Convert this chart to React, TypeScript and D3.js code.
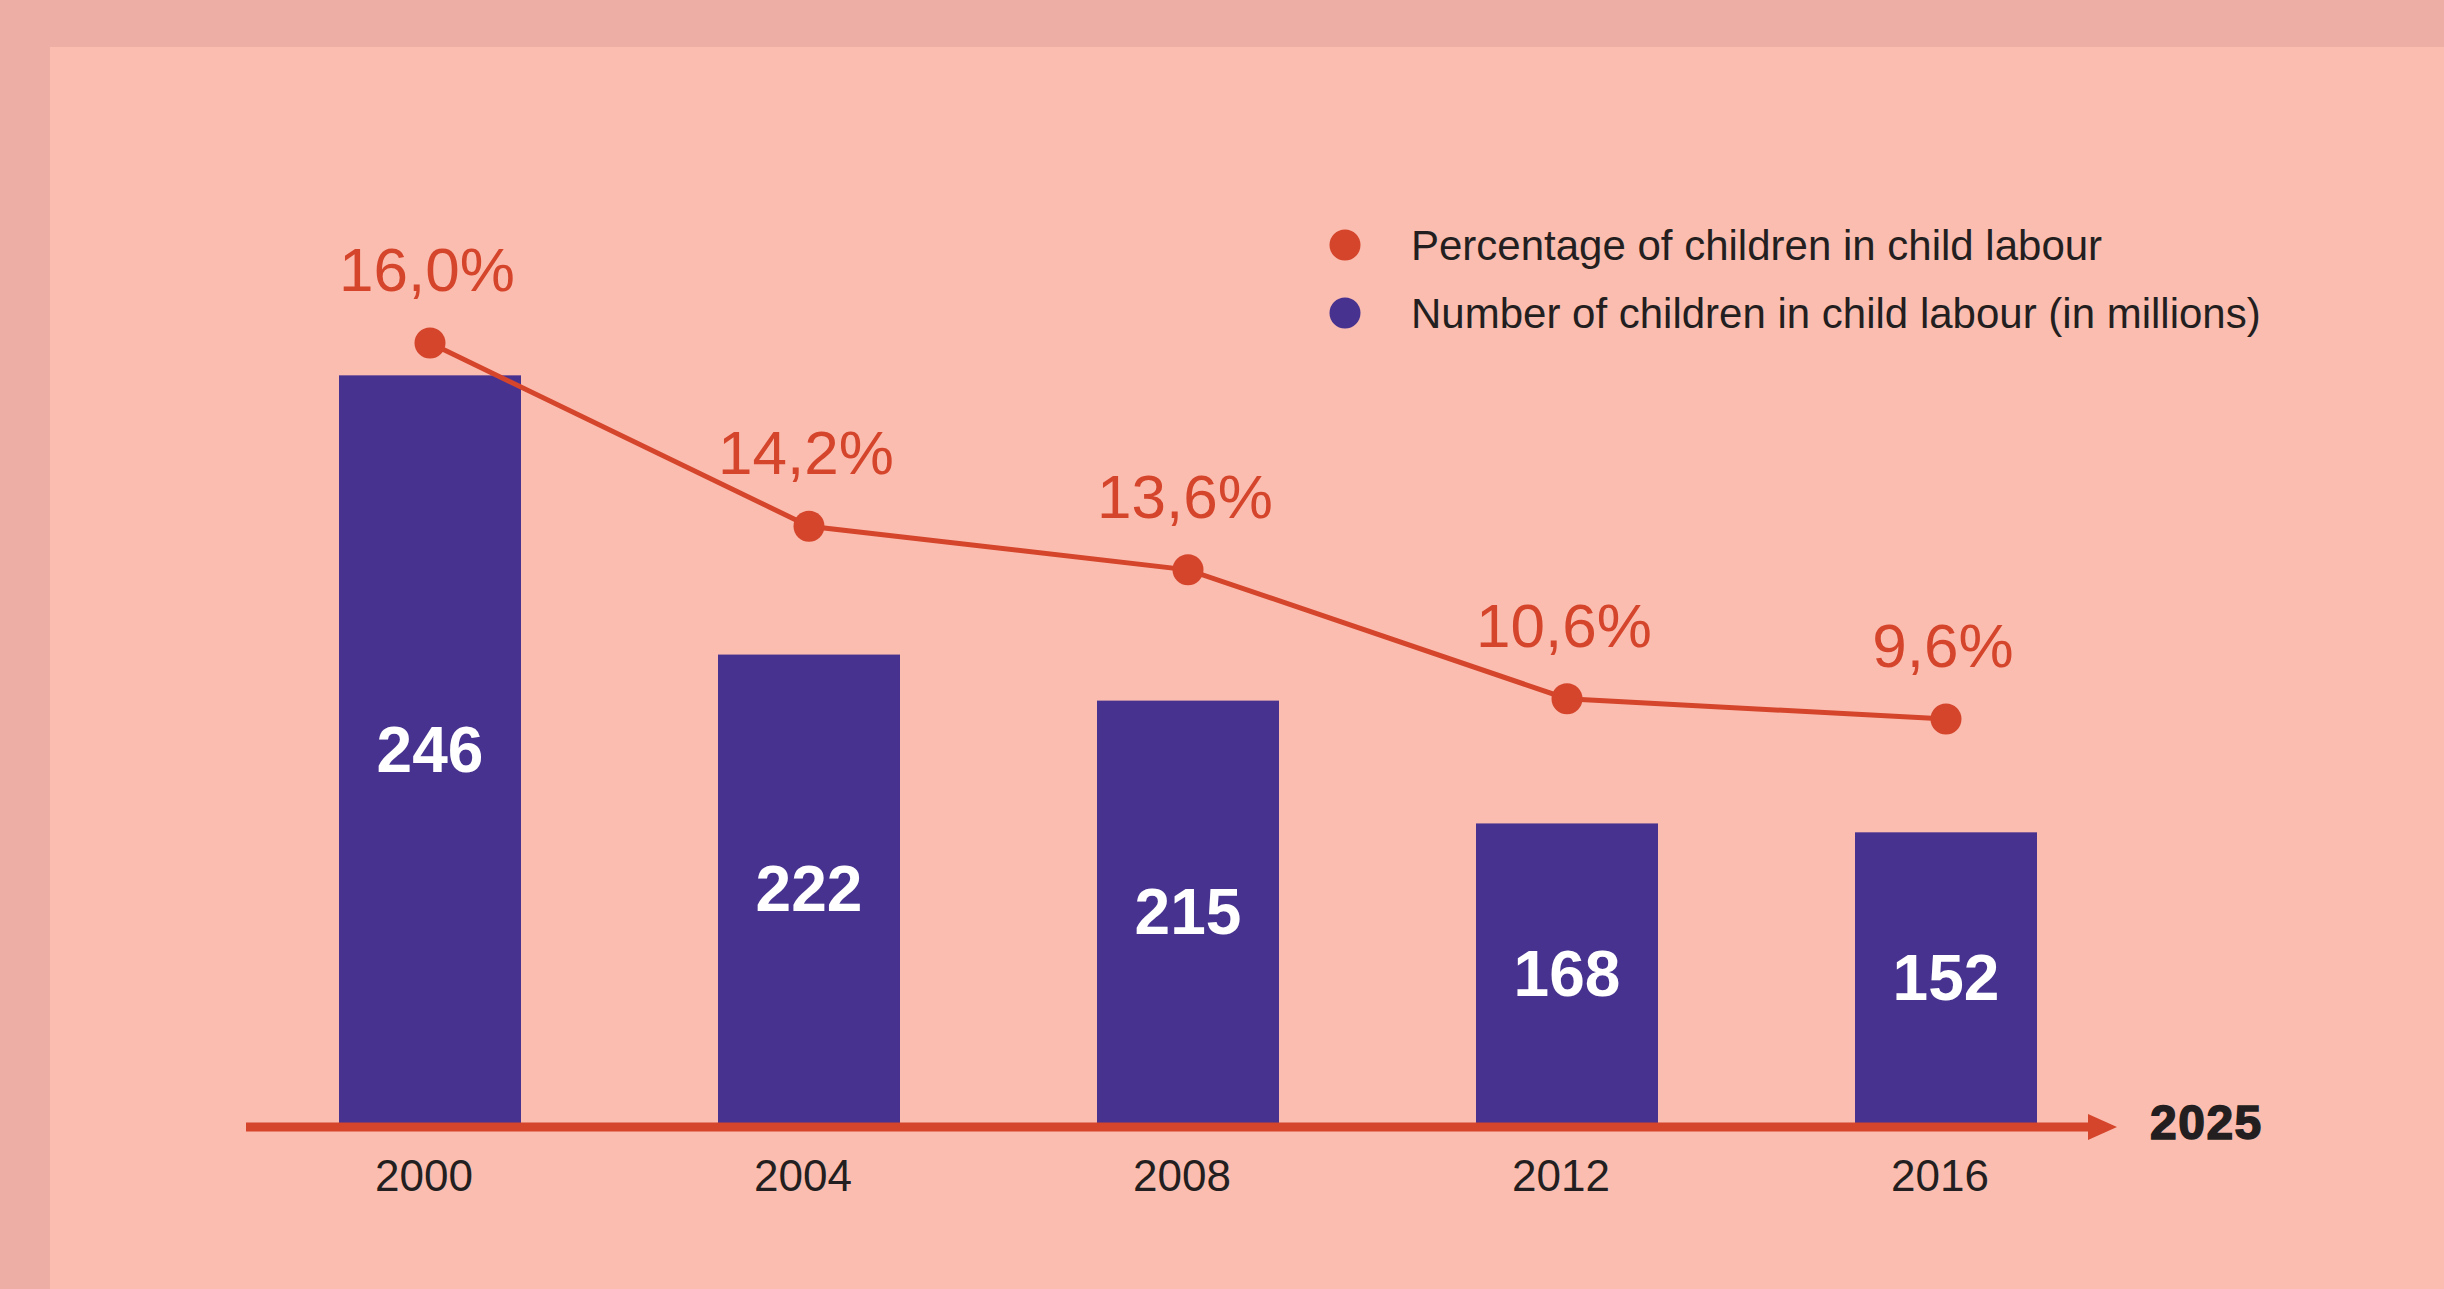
import * as d3 from "d3";

const YEARS = ["2000", "2004", "2008", "2012", "2016"];
const CHILDREN_MILLIONS = [246, 222, 215, 168, 152];
const PERCENT = [16.0, 14.2, 13.6, 10.6, 9.6];
const LEGEND = [
  "Percentage of children in child labour",
  "Number of children in child labour (in millions)",
];
const AXIS_END_LABEL = "2025";

const W = 2444, H = 1289;
const OUTER_BG = "#ecaea5";
const INNER_BG = "#fbbdb0";
const BAR = "#47338f";
const RED = "#d4452b";
const INK = "#231f20";
const FONT = "'Liberation Sans', Arial, sans-serif";

const fmtPct = (v: number) => v.toFixed(1).replace(".", ",") + "%";

export default function App() {
  const x = d3.scalePoint<string>().domain(YEARS).range([430, 1946]);
  const barW = 182;
  const baseline = 1123;
  // the infographic exaggerates differences, so both value axes are non-linear
  const yBar = d3.scalePow().exponent(9).domain([150, 250]).range([833, 303]);
  const yPct = d3.scalePow().exponent(5).domain([8, 18]).range([738, 16]);

  const pts = YEARS.map((yr, i) => [x(yr)!, yPct(PERCENT[i])] as [number, number]);
  const line = d3.line()(pts) ?? "";

  const axisY = 1127;
  const axisX0 = 246, axisX1 = 2090;

  return (
    <svg
      width={W}
      height={H}
      viewBox={`0 0 ${W} ${H}`}
      style={{ position: "absolute", left: 0, top: 0, display: "block" }}
      fontFamily={FONT}
    >
      <rect x={0} y={0} width={W} height={H} fill={OUTER_BG} />
      <rect x={50} y={47} width={W - 50} height={H - 47} fill={INNER_BG} />

      {/* bars */}
      {YEARS.map((yr, i) => {
        const top = yBar(CHILDREN_MILLIONS[i]);
        return (
          <g key={yr}>
            <rect x={x(yr)! - barW / 2} y={top} width={barW} height={baseline - top} fill={BAR} />
            <text
              x={x(yr)}
              y={(top + baseline) / 2}
              dy="0.35em"
              textAnchor="middle"
              fill="#fff"
              fontWeight="bold"
              fontSize={64}
            >
              {CHILDREN_MILLIONS[i]}
            </text>
          </g>
        );
      })}

      {/* axis with arrow */}
      <line x1={axisX0} x2={axisX1} y1={axisY} y2={axisY} stroke={RED} strokeWidth={9} />
      <path d={`M${axisX1 - 2},${axisY - 13} L${axisX1 + 27},${axisY} L${axisX1 - 2},${axisY + 13} Z`} fill={RED} />
      <text
        x={2150}
        y={1139}
        fontSize={48}
        fontWeight="bold"
        fill={INK}
        stroke={INK}
        strokeWidth={1.5}
        letterSpacing={1.5}
      >
        {AXIS_END_LABEL}
      </text>
      {YEARS.map((yr) => (
        <text key={yr} x={x(yr)! - 6} y={1191} textAnchor="middle" fontSize={44} fill={INK}>
          {yr}
        </text>
      ))}

      {/* percentage line */}
      <path d={line} fill="none" stroke={RED} strokeWidth={5} />
      {pts.map(([px, py], i) => (
        <g key={YEARS[i]}>
          <circle cx={px} cy={py} r={15.5} fill={RED} />
          <text x={px - 3} y={py - 52} textAnchor="middle" fontSize={62} fill={RED}>
            {fmtPct(PERCENT[i])}
          </text>
        </g>
      ))}

      {/* legend */}
      {LEGEND.map((label, i) => (
        <g key={label} transform={`translate(1345,${245 + i * 68})`}>
          <circle r={15.5} fill={i === 0 ? RED : BAR} />
          <text x={66} dy="0.35em" fontSize={42} fill={INK}>
            {label}
          </text>
        </g>
      ))}
    </svg>
  );
}
